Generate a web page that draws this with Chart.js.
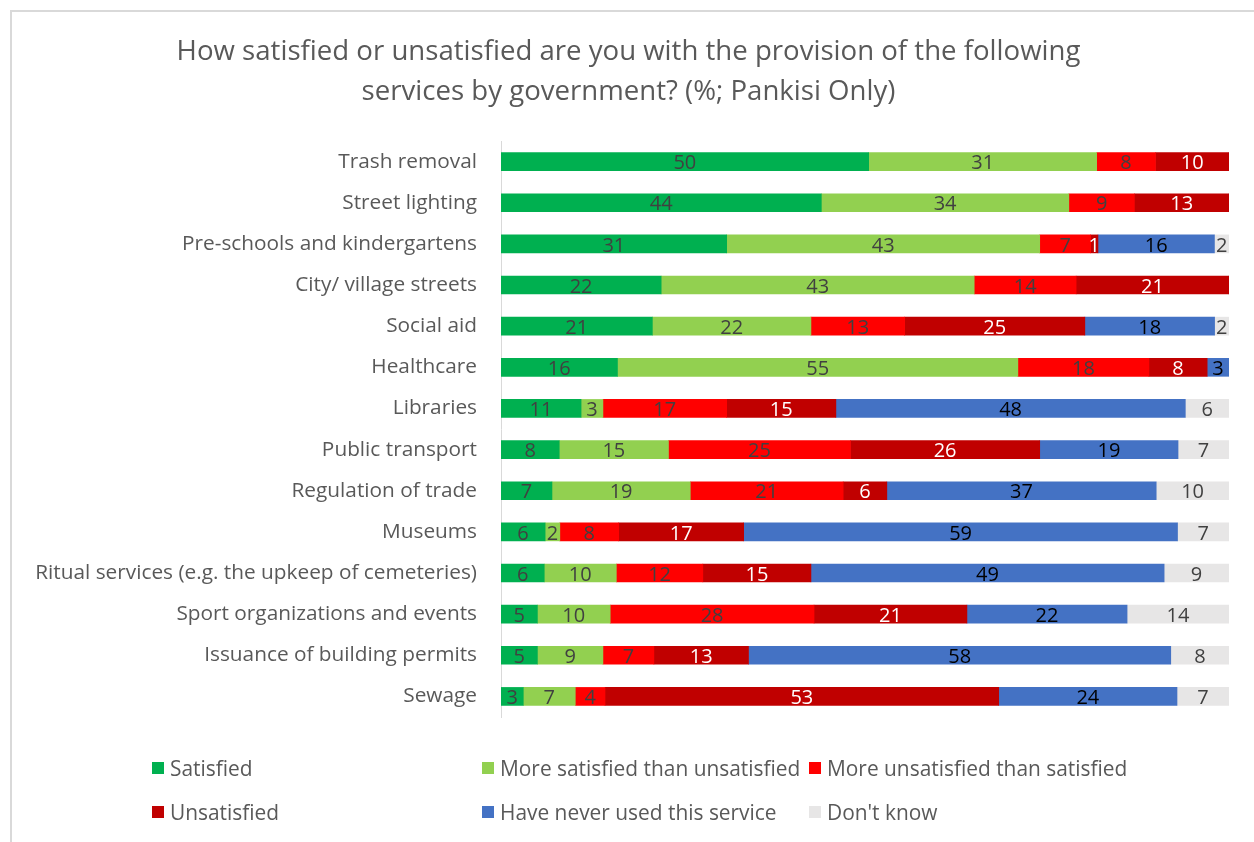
<!DOCTYPE html>
<html>
<head>
<meta charset="utf-8">
<title>Satisfaction with government services (Pankisi)</title>
<script src="https://cdn.jsdelivr.net/npm/chart.js@4.4.1/dist/chart.umd.min.js"></script>
<style>
  html, body { margin: 0; padding: 0; background: #fff; }
  body { width: 1254px; height: 842px; position: relative; overflow: hidden; font-family: "Open Sans", sans-serif; }
  #frame { position: absolute; left: 10px; top: 10px; width: 1400px; height: 1000px;
           border-left: 2px solid #d9d9d9; border-top: 2px solid #d9d9d9; }
  #wrap { position: absolute; left: 0; top: 0; width: 1254px; height: 842px; }
  #legend { position: absolute; left: 152px; top: 746px; display: grid;
            grid-template-columns: 330px 327px 330px; grid-auto-rows: 44px; }
  #legend .item { display: flex; align-items: center; font-size: 20.9px; color: #595959; white-space: nowrap; }
  #legend .swatch { width: 12px; height: 12px; margin-right: 6px; flex: none; }
</style>
</head>
<body>
<div id="frame"></div>
<div id="wrap"><canvas id="servicesChart"></canvas></div>
<div id="legend"></div>
<script>
// services, top to bottom
const services = [
  'Trash removal',
  'Street lighting',
  'Pre-schools and kindergartens',
  'City/ village streets',
  'Social aid',
  'Healthcare',
  'Libraries',
  'Public transport',
  'Regulation of trade',
  'Museums',
  'Ritual services (e.g. the upkeep of cemeteries)',
  'Sport organizations and events',
  'Issuance of building permits',
  'Sewage'
];

// answer shares in %, same order as services
const satisfied         = [50, 44, 31, 22, 21, 16, 11,  8,  7,  6,  6,  5,  5,  3];
const moreSatisfied     = [31, 34, 43, 43, 22, 55,  3, 15, 19,  2, 10, 10,  9,  7];
const moreUnsatisfied   = [ 8,  9,  7, 14, 13, 18, 17, 25, 21,  8, 12, 28,  7,  4];
const unsatisfied       = [10, 13,  1, 21, 25,  8, 15, 26,  6, 17, 15, 21, 13, 53];
const neverUsed         = [ 0,  0, 16,  0, 18,  3, 48, 19, 37, 59, 49, 22, 58, 24];
const dontKnow          = [ 0,  0,  2,  0,  2,  0,  6,  7, 10,  7,  9, 14,  8,  7];

const answers = [
  'Satisfied',
  'More satisfied than unsatisfied',
  'More unsatisfied than satisfied',
  'Unsatisfied',
  'Have never used this service',
  "Don't know"
];
const series = [satisfied, moreSatisfied, moreUnsatisfied, unsatisfied, neverUsed, dontKnow];

const fills = ['#00B050', '#92D050', '#FF0000', '#C00000', '#4472C4', '#E7E6E6'];
const labelInk = ['#404040', '#404040', '#404040', '#ffffff', '#000000', '#404040'];

// 100% stacked: every bar is scaled to its row total
const rowTotals = services.map((_, j) => series.reduce((s, arr) => s + arr[j], 0));

const datasets = series.map((values, i) => ({
  label: answers[i],
  values: values,
  data: values.map((v, j) => v / rowTotals[j] * 100),
  backgroundColor: fills[i],
  borderWidth: 0,
  barThickness: 18
}));

// value printed in the middle of each segment
const segmentLabels = {
  id: 'segmentLabels',
  afterDatasetsDraw(chart) {
    const ctx = chart.ctx;
    ctx.save();
    ctx.font = '20px "Open Sans"';
    ctx.textAlign = 'center';
    ctx.textBaseline = 'middle';
    chart.data.datasets.forEach((ds, i) => {
      chart.getDatasetMeta(i).data.forEach((bar, j) => {
        const v = ds.values[j];
        if (!v) return;
        const p = bar.getProps(['x', 'y', 'base'], true);
        ctx.fillStyle = labelInk[i];
        ctx.fillText(String(v), (p.x + p.base) / 2, p.y + 2);
      });
    });
    ctx.restore();
  }
};

// legend laid out in fixed columns under the plot
const htmlLegend = {
  id: 'htmlLegend',
  afterUpdate(chart) {
    const box = document.getElementById('legend');
    box.innerHTML = '';
    chart.data.datasets.forEach(ds => {
      const item = document.createElement('div');
      item.className = 'item';
      const sw = document.createElement('span');
      sw.className = 'swatch';
      sw.style.background = ds.backgroundColor;
      const txt = document.createElement('span');
      txt.textContent = ds.label;
      item.append(sw, txt);
      box.appendChild(item);
    });
  }
};

const ctx = document.getElementById('servicesChart').getContext('2d');
new Chart(ctx, {
  type: 'bar',
  data: { labels: services, datasets: datasets },
  plugins: [segmentLabels, htmlLegend],
  options: {
    indexAxis: 'y',
    responsive: true,
    maintainAspectRatio: false,
    animation: false,
    layout: { padding: { left: 28, right: 25, top: 0, bottom: 125 } },
    plugins: {
      legend: { display: false },
      tooltip: { enabled: false },
      title: {
        display: true,
        text: ['How satisfied or unsatisfied are you with the provision of the following',
               'services by government? (%; Pankisi Only)'],
        color: '#595959',
        font: { family: '"Open Sans"', size: 27.6, weight: 'normal', lineHeight: 1.45 },
        padding: { top: 32, bottom: 29 }
      }
    },
    scales: {
      x: { stacked: true, display: false, min: 0, max: 100 },
      y: {
        stacked: true,
        grid: { display: false, drawTicks: false },
        border: { display: true, color: '#d9d9d9', width: 1 },
        ticks: {
          autoSkip: false,
          padding: 24,
          color: '#595959',
          font: { family: '"Open Sans"', size: 20.8 }
        },
        afterFit(scale) { scale.width = 473; }
      }
    }
  }
});
</script>
</body>
</html>
